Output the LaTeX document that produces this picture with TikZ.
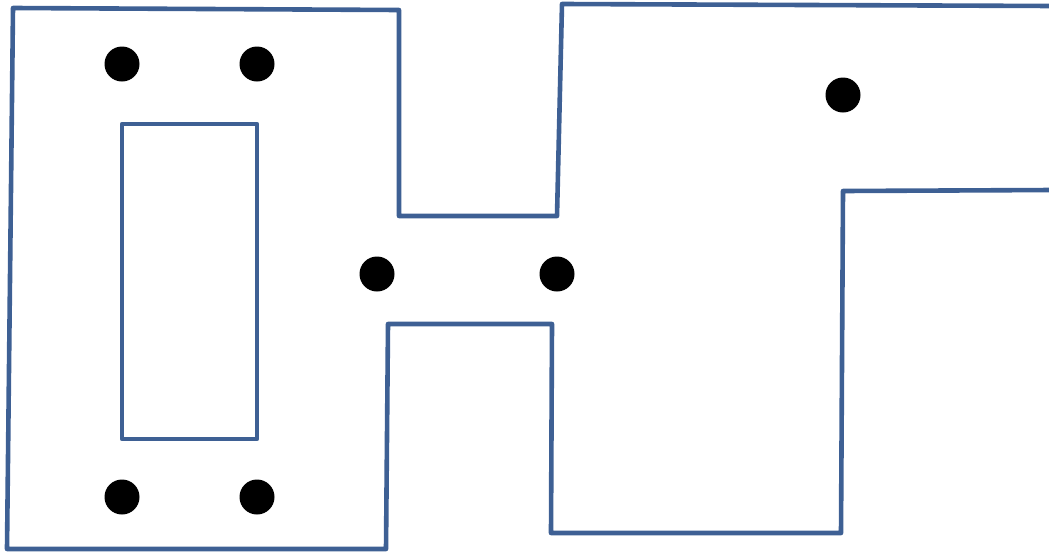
\documentclass[tikz,border=0pt]{standalone}
\definecolor{wallblue}{RGB}{62,96,148}
\tikzset{
  wall/.style={draw=wallblue, line width=4.6pt, line join=round},
  dotmark/.style={circle, fill=black, inner sep=0pt, minimum size=35pt}
}
\begin{document}
\begin{tikzpicture}[x=1pt, y=-1pt]
  \useasboundingbox (0,0) rectangle (1049,552);
  \clip (0,0) rectangle (1049,552);

  % outer wall
  \draw[wall] (1053,190) -- (843,191) -- (841,533) -- (551,533) -- (552,324)
    -- (388,324) -- (386,549) -- (7,549) -- (13,8) -- (399,10) -- (399,216)
    -- (557,216) -- (562,4) -- (1053,6);

  % inner room
  \draw[wall] (122,124) rectangle (257,439);

  % points
  \node[dotmark] (p1) at (122,64) {};
  \node[dotmark] (p2) at (257,64) {};
  \node[dotmark] (p3) at (843,95) {};
  \node[dotmark] (p4) at (377,274) {};
  \node[dotmark] (p5) at (557,274) {};
  \node[dotmark] (p6) at (122,497) {};
  \node[dotmark] (p7) at (257,497) {};
\end{tikzpicture}
\end{document}
